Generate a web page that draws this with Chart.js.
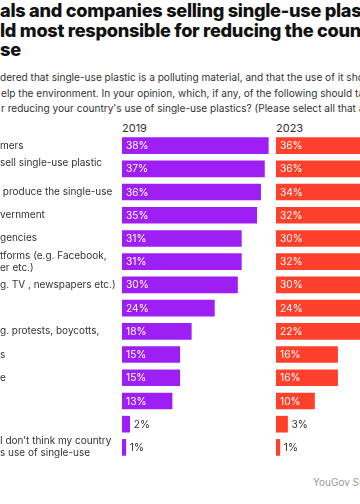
<!DOCTYPE html>
<html>
<head>
<meta charset="utf-8">
<script src="https://cdn.jsdelivr.net/npm/chart.js@4.4.1/dist/chart.umd.min.js"></script>
<style>
	html, body { margin: 0; padding: 0; background: #fff; }
	body { width: 360px; height: 504px; overflow: hidden; position: relative; font-family: Inter, "Noto Sans", sans-serif; color: #222; }
	.line { position: absolute; white-space: nowrap; }
	.title { font-size: 18.2px; font-weight: 800; line-height: 19.5px; letter-spacing: -0.3px; color: #111; }
	.sub { font-size: 10.1px; line-height: 15px; color: #333; }
	.year { font-size: 11px; line-height: 14px; color: #333; }
	.source { font-size: 10px; color: #999; }
	.wrap { position: absolute; }
	#err { position: absolute; left: 0; top: 470px; font-size: 10px; color: red; }
</style>
</head>
<body>
<div class="line title" style="left:0;top:1px">als and companies selling single-use plastics</div>
<div class="line title" style="left:0;top:21px">ld most responsible for reducing the country's</div>
<div class="line title" style="left:0;top:40px">se</div>

<div class="line sub" style="left:0;top:70px">dered that single-use plastic is a polluting material, and that the use of it should</div>
<div class="line sub" style="left:1px;top:85.5px">elp the environment. In your opinion, which, if any, of the following should take</div>
<div class="line sub" style="left:1px;top:101px">r reducing your country's use of single-use plastics? (Please select all that apply)</div>

<div class="line year" style="left:122px;top:121px">2019</div>
<div class="line year" style="left:276px;top:121px">2023</div>

<div class="wrap" style="left:0;top:134px;width:276px;height:325px"><canvas id="c2019" width="276" height="325"></canvas></div>
<div class="wrap" style="left:276px;top:134px;width:154px;height:325px"><canvas id="c2023" width="154" height="325"></canvas></div>

<div class="line source" style="left:313px;top:476px">YouGov Surveys: Self-serve</div>
<div id="err"></div>

<script>
// Row labels (only the part visible in the cropped picture).
const categories = [
	'mers',
	['sell single-use plastic', ''],
	' produce the single-use',
	'vernment',
	'gencies',
	['tforms (e.g. Facebook,', 'er etc.)'],
	'g. TV , newspapers etc.)',
	'',
	'g. protests, boycotts,',
	's',
	'e',
	'',
	'',
	['I don\u2019t think my country', 's use of single-use']
];
const values2019 = [38, 37, 36, 35, 31, 31, 30, 24, 18, 15, 15, 13, 2, 1];
const values2023 = [36, 36, 34, 32, 30, 32, 30, 24, 22, 16, 16, 10, 3, 1];

const FONT = 'Inter, "Noto Sans", sans-serif';
const PURPLE = '#9d1ff3';
const RED = '#ff412c';

// Draws the percentage in the bar (white) or next to it when the bar is short.
const barValueLabels = {
	id: 'barValueLabels',
	afterDatasetsDraw( chart ) {
		const ctx = chart.ctx;
		ctx.save();
		ctx.font = '10.2px ' + FONT;
		ctx.textBaseline = 'middle';
		ctx.textAlign = 'left';
		chart.getDatasetMeta( 0 ).data.forEach( ( bar, i ) => {
			const v = chart.data.datasets[0].data[i];
			const txt = v + '%';
			if ( v >= 10 ) {
				ctx.fillStyle = '#fff';
				ctx.fillText( txt, bar.base + 4, bar.y + 0.5 );
			} else {
				ctx.fillStyle = '#333';
				ctx.fillText( txt, bar.x + 4, bar.y + 0.5 );
			}
		} );
		ctx.restore();
	}
};

function makeChart( id, values, color, showLabels ) {
	return new Chart( document.getElementById( id ), {
		type: 'bar',
		data: {
			labels: categories,
			datasets: [ {
				data: values,
				backgroundColor: color,
				barThickness: 16,
				borderWidth: 0
			} ]
		},
		options: {
			indexAxis: 'y',
			responsive: false,
			animation: false,
			devicePixelRatio: 1,
			layout: { padding: 0 },
			scales: {
				x: { display: false, min: 0, max: 40 },
				y: {
					display: showLabels,
					grid: { display: false },
					border: { display: false },
					afterFit: ( scale ) => {
						scale.width = showLabels ? 122 : 0;
						// keep both charts' rows on the same grid
						scale.paddingTop = 0;
						scale.paddingBottom = 0;
					},
					ticks: {
						autoSkip: false,
						crossAlign: 'far',
						padding: 0,
						color: '#333',
						font: { family: FONT, size: 10, lineHeight: 1.2 }
					}
				}
			},
			plugins: {
				legend: { display: false },
				tooltip: { enabled: false }
			}
		},
		plugins: [ barValueLabels ]
	} );
}

try {
	makeChart( 'c2019', values2019, PURPLE, true );
	makeChart( 'c2023', values2023, RED, false );
} catch ( e ) {
	document.getElementById( 'err' ).textContent = e.message;
}
</script>
</body>
</html>
